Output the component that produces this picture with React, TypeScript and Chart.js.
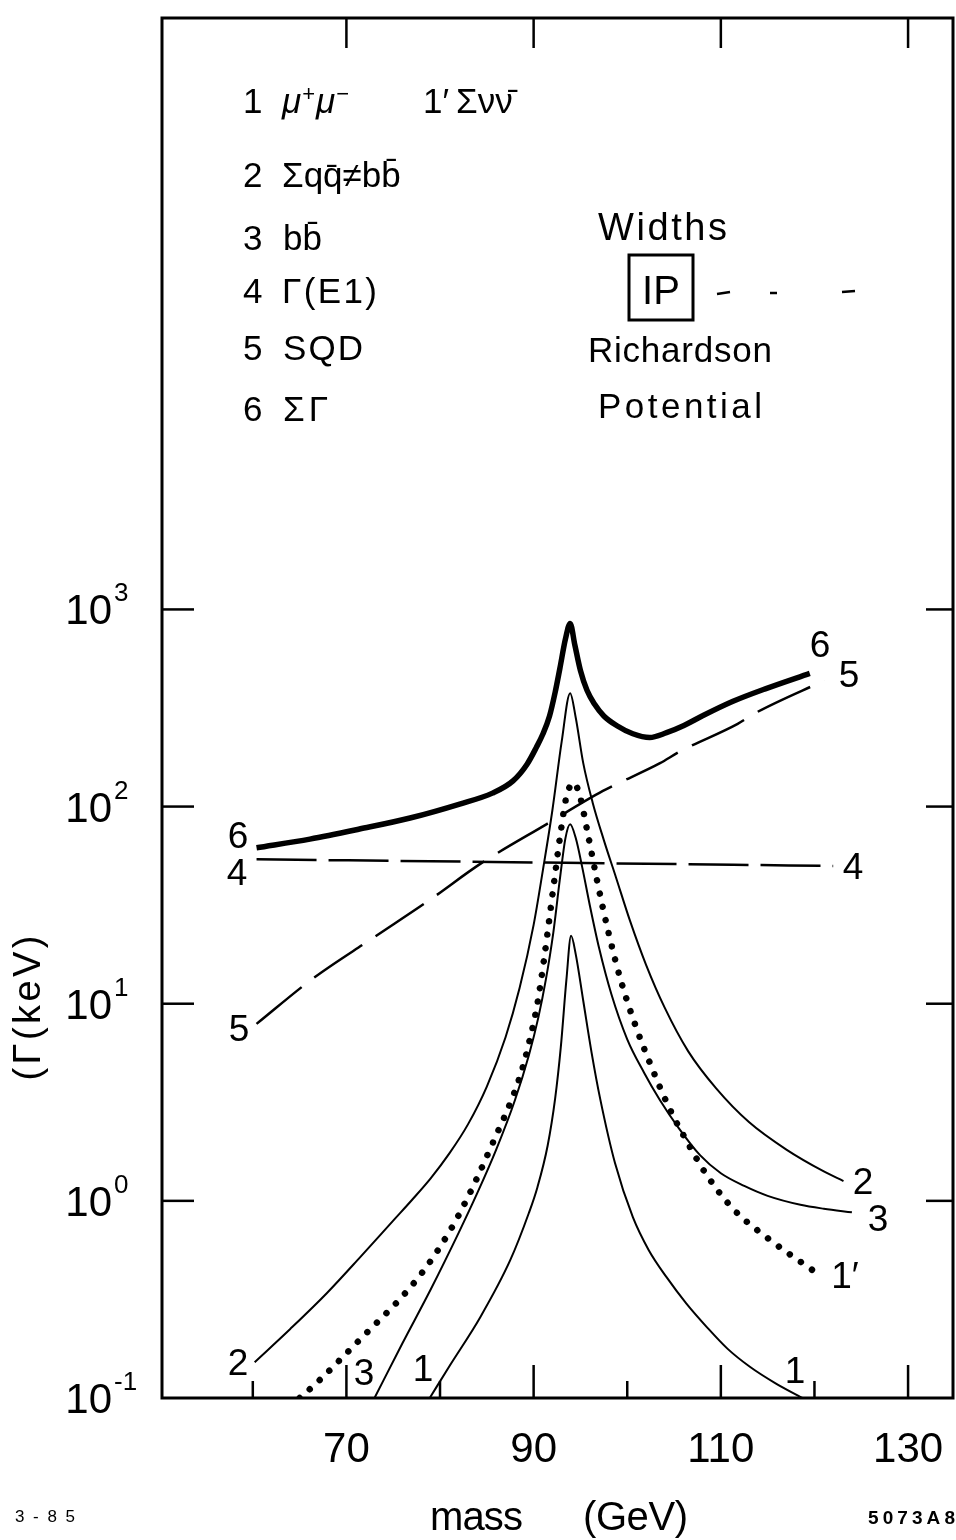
import React, { useEffect, useRef } from "react";
import { Chart, registerables } from "chart.js";

Chart.register(...registerables);

const FONT = '"Liberation Sans", Arial, sans-serif';

// ---- axes ----
const xRange = [50.3, 134.8];
const yRange = [0.1, 1e6];
const xTickValues = [60, 70, 80, 90, 100, 110, 120, 130];
const xTickLabels = ["", "70", "", "90", "", "110", "", "130"];
const yTickValues = [0.1, 1, 10, 100, 1000];
const yTickExponents = ["-1", "0", "1", "2", "3"];

// ---- curve 1: mu+ mu- ----
const mass1 = [78.9, 81, 84.3, 87.5, 89.5, 90.4, 91.5, 92.3, 92.9, 93.5, 94.0, 94.5, 95.3, 96.2, 97.1, 98.7, 100.6, 102.3, 104.2, 106.3, 108.5, 110.7, 113.1, 115.8, 118.7];
const width1 = [0.1, 0.145, 0.257, 0.5, 0.87, 1.17, 1.91, 3.31, 6.0, 13.2, 22.1, 17.8, 10.35, 5.62, 3.31, 1.55, 0.826, 0.562, 0.41, 0.302, 0.229, 0.178, 0.144, 0.119, 0.1];

// ---- curve 1': sum nu nubar (dotted) ----
const mass1p = [65.0, 66.8, 71.4, 76.8, 79.5, 82.1, 85.6, 88.5, 89.5, 90.4, 91.1, 91.7, 92.3, 92.8, 93.5, 94.3, 95.0, 95.8, 96.8, 98.0, 99.3, 100.8, 102.5, 104.5, 106.5, 108.5, 111.3, 115.3, 119.8];
const width1p = [0.1, 0.119, 0.197, 0.363, 0.537, 0.865, 1.95, 4.22, 6.31, 10.0, 16.6, 27.5, 45.7, 69.2, 112, 132, 110, 72.4, 41.7, 22.9, 13.2, 7.94, 4.9, 2.95, 1.95, 1.35, 0.912, 0.631, 0.445];

// ---- curve 2: sum q qbar (not b bbar) ----
const mass2 = [60.2, 64, 67.9, 71.5, 75, 77, 79, 81, 83, 85, 87, 88.5, 90, 91, 92, 93, 93.9, 94.5, 95.3, 96.3, 97.5, 98.8, 100.3, 102, 104, 106.5, 109.5, 113, 117, 121, 123.1];
const width2 = [0.152, 0.224, 0.34, 0.52, 0.794, 1.01, 1.3, 1.74, 2.45, 3.8, 6.76, 12.0, 25.1, 47.9, 95.5, 214, 376, 282, 166, 105, 67.6, 43.7, 26.3, 15.8, 9.55, 5.75, 3.72, 2.51, 1.82, 1.41, 1.26];

// ---- curve 3: b bbar ----
const mass3 = [73, 76, 79, 82, 84, 86, 88, 89.5, 90.5, 91.3, 92.1, 92.8, 93.4, 93.9, 94.5, 95.2, 96.0, 97.0, 98.3, 100, 101.8, 103.5, 105.5, 107.8, 110, 112.5, 115, 118.5, 121, 124];
const width3 = [0.1, 0.19, 0.355, 0.69, 1.1, 1.82, 3.24, 5.5, 8.5, 13.2, 22.9, 42.7, 69.2, 81.3, 69.2, 49, 31.6, 19.1, 11.2, 6.6, 4.47, 3.24, 2.34, 1.7, 1.38, 1.19, 1.06, 0.955, 0.912, 0.875];

// ---- curve 4: Gamma(E1) ----
const mass4 = [60.4, 91, 122];
const width4 = [54, 52, 50];

// ---- curve 5: SQD ----
const mass5 = [60.4, 66.4, 72.8, 79.2, 84.3, 91.4, 97.4, 103.5, 105.6, 111.8, 113.9, 121.1];
const width5 = [7.9, 13.4, 21.5, 34.4, 51.2, 81.5, 120, 166, 190, 263, 302, 437];

// ---- curve 6: sum Gamma ----
const mass6 = [60.4, 66.1, 71.4, 76.8, 82.1, 85.6, 87.8, 89.3, 90.3, 91.0, 91.7, 92.3, 92.8, 93.4, 93.9, 94.4, 95.0, 95.7, 96.5, 97.5, 98.9, 100.6, 102.4, 104.2, 106, 108, 111.3, 114.9, 119.5];
const width6 = [61.8, 68.4, 76.9, 87.5, 103, 117, 135, 164, 200, 234, 288, 380, 501, 708, 849, 661, 490, 389, 331, 288, 257, 234, 224, 237, 257, 288, 342, 398, 474];

function pts(xs: number[], ys: number[]) {
  return xs.map((x, i) => ({ x, y: ys[i] }));
}

function drawText(ctx: CanvasRenderingContext2D, s: string, x: number, base: number, size: number, o: any = {}) {
  const style = (o.italic ? "italic " : "") + (o.bold ? "bold " : "");
  ctx.font = `${style}${size}px ${FONT}`;
  (ctx as any).letterSpacing = "0px";
  const w = ctx.measureText(s).width;
  const n = Array.from(s).length;
  let ls = o.spacing || 0;
  if (o.width && n > 1) ls = (o.width - w) / (n - 1);
  const total = w + ls * (n - 1);
  let left = x;
  if (o.align === "center") left = x - total / 2;
  else if (o.align === "right") left = x - total;
  (ctx as any).letterSpacing = `${ls}px`;
  ctx.textAlign = "left";
  ctx.textBaseline = "alphabetic";
  ctx.fillText(s, left, base);
  (ctx as any).letterSpacing = "0px";
  return left + total;
}

function seg(ctx: CanvasRenderingContext2D, x1: number, y1: number, x2: number, y2: number) {
  ctx.beginPath();
  ctx.moveTo(x1, y1);
  ctx.lineTo(x2, y2);
  ctx.stroke();
}

const decorations = {
  id: "decorations",
  afterDraw(chart: any) {
    const { ctx, chartArea: a, scales } = chart;
    const xs = scales.x;
    const ys = scales.y;
    ctx.save();
    ctx.strokeStyle = "#000";
    ctx.fillStyle = "#000";
    ctx.lineCap = "butt";

    // frame
    ctx.lineWidth = 3;
    ctx.strokeRect(a.left, a.top, a.right - a.left, a.bottom - a.top);

    // inward ticks
    ctx.lineWidth = 2.5;
    xTickValues.forEach((v) => {
      const px = xs.getPixelForValue(v);
      const major = v % 20 === 10;
      seg(ctx, px, a.bottom, px, a.bottom - (major ? 33 : 17));
      if (major) seg(ctx, px, a.top, px, a.top + 30);
    });
    yTickValues.forEach((v) => {
      if (v < 1) return;
      const py = ys.getPixelForValue(v);
      seg(ctx, a.left, py, a.left + 32, py);
      seg(ctx, a.right, py, a.right - 27, py);
    });

    // y tick labels (10 with exponent)
    yTickValues.forEach((v, i) => {
      const py = ys.getPixelForValue(v);
      drawText(ctx, "10", a.left - 50, py + 15, 42, { align: "right" });
      drawText(ctx, yTickExponents[i], a.left - 48, py - 8, 26);
    });

    // y axis title
    ctx.save();
    ctx.translate(27, 1008);
    ctx.rotate(-Math.PI / 2);
    drawText(ctx, "(\u0393(keV)", 0, 13, 38, { align: "center", width: 145 });
    ctx.restore();

    // x axis title and corner marks
    drawText(ctx, "mass", 430, 1530, 40, { width: 93 });
    drawText(ctx, "(GeV)", 583, 1530, 40, { width: 105 });
    drawText(ctx, "3-85", 15, 1522, 17, { width: 60 });
    drawText(ctx, "5073A8", 868, 1524, 19, { width: 87, bold: true });

    // legend block
    const L = 35;
    drawText(ctx, "1", 243, 113, L);
    let nx = drawText(ctx, "\u03bc", 282, 113, L, { italic: true });
    nx = drawText(ctx, "+", nx + 1, 101, 22);
    nx = drawText(ctx, "\u03bc", nx + 1, 113, L, { italic: true });
    drawText(ctx, "\u2212", nx + 1, 101, 22);
    drawText(ctx, "1\u2032", 423, 113, L);
    drawText(ctx, "\u03a3\u03bd\u03bd\u0304", 456, 113, L);
    drawText(ctx, "2", 243, 187, L);
    drawText(ctx, "\u03a3qq\u0304\u2260bb\u0304", 282, 187, L);
    drawText(ctx, "3", 243, 250, L);
    drawText(ctx, "bb\u0304", 283, 250, L);
    drawText(ctx, "4", 243, 303, L);
    drawText(ctx, "\u0393(E1)", 282, 303, L, { width: 95 });
    drawText(ctx, "5", 243, 360, L);
    drawText(ctx, "SQD", 283, 360, L, { width: 80 });
    drawText(ctx, "6", 243, 421, L);
    drawText(ctx, "\u03a3\u0393", 283, 421, L, { spacing: 4 });

    // Widths / IP / Richardson Potential
    drawText(ctx, "Widths", 598, 240, 38, { width: 129 });
    ctx.lineWidth = 3;
    ctx.strokeRect(629, 255, 64, 65);
    drawText(ctx, "IP", 661, 304, 40, { align: "center", width: 38 });
    drawText(ctx, "Richardson", 588, 362, 35, { width: 184 });
    drawText(ctx, "Potential", 598, 418, 35, { width: 164 });
    ctx.lineWidth = 2.5;
    seg(ctx, 717, 294, 730, 292);
    seg(ctx, 770, 293, 777, 293);
    seg(ctx, 842, 292, 855, 291);

    // curve labels
    const C = 37;
    const lab = (s: string, cx: number, cy: number) => drawText(ctx, s, cx, cy + 0.36 * C, C, { align: "center" });
    lab("6", 238, 835);
    lab("4", 237, 872);
    lab("5", 239, 1028);
    lab("2", 238, 1362);
    lab("3", 364, 1372);
    lab("1", 423, 1368);
    lab("1", 795, 1370);
    lab("6", 820, 644);
    lab("5", 849, 674);
    lab("4", 853, 866);
    lab("2", 863, 1181);
    lab("3", 878, 1218);
    lab("1\u2032", 845, 1275);

    ctx.restore();
  },
};

export default function App() {
  const ref = useRef<HTMLCanvasElement | null>(null);

  useEffect(() => {
    if (!ref.current) return;
    const thin = { borderColor: "#000", borderWidth: 2, pointRadius: 0, fill: false, cubicInterpolationMode: "monotone" as const };
    const chart = new Chart(ref.current, {
      type: "line",
      data: {
        datasets: [
          { ...thin, label: "6 \u03a3\u0393", data: pts(mass6, width6), borderWidth: 5.5 },
          { ...thin, label: "5 SQD", data: pts(mass5, width5), borderWidth: 2.5, borderDash: [58, 16] },
          { ...thin, label: "4 \u0393(E1)", data: pts(mass4, width4), borderWidth: 2.5, borderDash: [60, 12] },
          { ...thin, label: "2 \u03a3qq\u0304\u2260bb\u0304", data: pts(mass2, width2) },
          { ...thin, label: "3 bb\u0304", data: pts(mass3, width3) },
          { ...thin, label: "1 \u03bc+\u03bc-", data: pts(mass1, width1) },
          {
            ...thin,
            label: "1' \u03a3\u03bd\u03bd\u0304",
            data: pts(mass1p, width1p),
            borderWidth: 6.5,
            borderDash: [0.001, 13.5],
            borderCapStyle: "round" as const,
          },
        ],
      },
      options: {
        animation: false,
        responsive: false,
        devicePixelRatio: 1,
        layout: { padding: { left: 0, right: 3, top: 18, bottom: 0 } },
        plugins: { legend: { display: false }, tooltip: { enabled: false } },
        scales: {
          x: {
            type: "linear",
            min: xRange[0],
            max: xRange[1],
            grid: { display: false, drawTicks: false },
            border: { display: false },
            afterBuildTicks: (s: any) => {
              s.ticks = xTickValues.map((v) => ({ value: v }));
            },
            afterFit: (s: any) => {
              s.height = 142;
              s.paddingLeft = 0;
              s.paddingRight = 0;
            },
            ticks: {
              autoSkip: false,
              maxRotation: 0,
              padding: 27,
              color: "#000",
              font: { family: FONT, size: 42 },
              callback: (v: any) => xTickLabels[xTickValues.indexOf(Number(v))] ?? "",
            },
          },
          y: {
            type: "logarithmic",
            min: yRange[0],
            max: yRange[1],
            grid: { display: false, drawTicks: false },
            border: { display: false },
            afterBuildTicks: (s: any) => {
              s.ticks = yTickValues.map((v) => ({ value: v }));
            },
            afterFit: (s: any) => {
              s.width = 162;
              s.paddingTop = 0;
              s.paddingBottom = 0;
            },
            ticks: { display: false },
          },
        },
      },
      plugins: [decorations],
    });
    return () => chart.destroy();
  }, []);

  return (
    <div style={{ position: "absolute", left: 0, top: 0, width: 956, height: 1540, background: "#fff" }}>
      <canvas ref={ref} width={956} height={1540} style={{ display: "block", width: 956, height: 1540 }} />
    </div>
  );
}
